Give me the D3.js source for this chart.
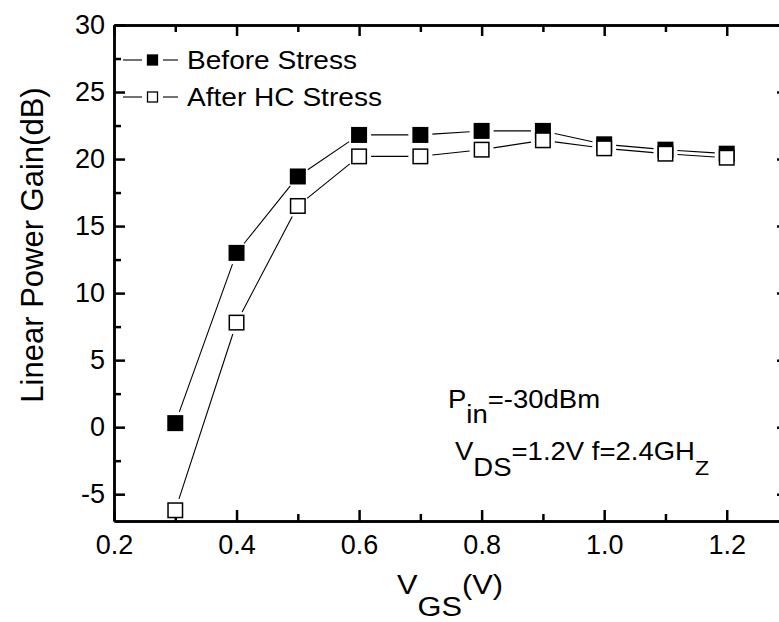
<!DOCTYPE html>
<html>
<head>
<meta charset="utf-8">
<script src="https://cdn.jsdelivr.net/npm/d3@7"></script>
<style>
  html, body { margin: 0; padding: 0; background: #fff; }
  svg { display: block; }
  text { font-family: Arial, "Liberation Sans", sans-serif; fill: #000; }
</style>
</head>
<body>
<svg id="chart" width="779" height="622"></svg>
<script>
// ---- data ----
const vgs = [0.3, 0.4, 0.5, 0.6, 0.7, 0.8, 0.9, 1.0, 1.1, 1.2];
const beforeStress = [0.3, 13.0, 18.7, 21.8, 21.8, 22.1, 22.1, 21.1, 20.7, 20.4];
const afterStress = [-6.2, 7.8, 16.5, 20.2, 20.2, 20.7, 21.4, 20.8, 20.4, 20.1];
const xTickValues = [0.2, 0.4, 0.6, 0.8, 1.0, 1.2];
const xMinorValues = [0.3, 0.5, 0.7, 0.9, 1.1];
const yTickValues = [-5, 0, 5, 10, 15, 20, 25, 30];
const yMinorValues = [-2.5, 2.5, 7.5, 12.5, 17.5, 22.5, 27.5];
const seriesNames = ["Before Stress", "After HC Stress"];

const svg = d3.select("#chart");
const x = d3.scaleLinear().domain([0.2, 1.3]).range([114, 788]);
const y = d3.scaleLinear().domain([-7, 30]).range([521, 25]);

const AX_W = 2.5;

function styleAxis(g) {
  g.select(".domain").attr("stroke", "#000").attr("stroke-width", AX_W);
  g.selectAll(".tick line").attr("stroke", "#000").attr("stroke-width", AX_W);
  g.selectAll(".tick text").attr("font-family", "Arial, 'Liberation Sans', sans-serif")
    .attr("font-size", 27).attr("fill", "#000");
}

// left axis
svg.append("g").attr("transform", `translate(${x(0.2)},0)`)
  .call(d3.axisLeft(y).tickValues(yTickValues).tickSize(-11).tickSizeOuter(0).tickPadding(9)
    .tickFormat(d => String(d)))
  .call(styleAxis);
svg.append("g").attr("transform", `translate(${x(0.2)},0)`)
  .call(d3.axisLeft(y).tickValues(yMinorValues).tickSize(-7).tickSizeOuter(0).tickFormat(""))
  .call(styleAxis);
// right axis
svg.append("g").attr("transform", `translate(${x(1.3)},0)`)
  .call(d3.axisRight(y).tickValues(yTickValues).tickSize(-11).tickSizeOuter(0).tickFormat(""))
  .call(styleAxis);
svg.append("g").attr("transform", `translate(${x(1.3)},0)`)
  .call(d3.axisRight(y).tickValues(yMinorValues).tickSize(-7).tickSizeOuter(0).tickFormat(""))
  .call(styleAxis);
// bottom axis
svg.append("g").attr("transform", `translate(0,${y(-7)})`)
  .call(d3.axisBottom(x).tickValues(xTickValues).tickSize(-11).tickSizeOuter(0).tickPadding(14)
    .tickFormat(d3.format(".1f")))
  .call(styleAxis)
  .call(g => g.selectAll(".tick text").attr("dy", "0.71em"));
svg.append("g").attr("transform", `translate(0,${y(-7)})`)
  .call(d3.axisBottom(x).tickValues(xMinorValues).tickSize(-7).tickSizeOuter(0).tickFormat(""))
  .call(styleAxis);
// top axis
svg.append("g").attr("transform", `translate(0,${y(30)})`)
  .call(d3.axisTop(x).tickValues(xTickValues).tickSize(-11).tickSizeOuter(0).tickFormat(""))
  .call(styleAxis);
svg.append("g").attr("transform", `translate(0,${y(30)})`)
  .call(d3.axisTop(x).tickValues(xMinorValues).tickSize(-7).tickSizeOuter(0).tickFormat(""))
  .call(styleAxis);

// ---- series ----
const GAP = 12;
function drawSeries(vals, filled) {
  const pts = vgs.map((v, i) => [x(v), y(vals[i])]);
  const g = svg.append("g");
  for (let i = 0; i < pts.length - 1; i++) {
    const [x1, y1] = pts[i], [x2, y2] = pts[i + 1];
    const L = Math.hypot(x2 - x1, y2 - y1);
    if (L <= 2 * GAP) continue;
    const ux = (x2 - x1) / L, uy = (y2 - y1) / L;
    g.append("line")
      .attr("x1", x1 + ux * GAP).attr("y1", y1 + uy * GAP)
      .attr("x2", x2 - ux * GAP).attr("y2", y2 - uy * GAP)
      .attr("stroke", "#000").attr("stroke-width", 1.1);
  }
  const S = 14.5;
  g.selectAll("rect.m").data(pts).enter().append("rect")
    .attr("x", d => d[0] - S / 2).attr("y", d => d[1] - S / 2)
    .attr("width", S).attr("height", S)
    .attr("fill", filled ? "#000" : "#fff")
    .attr("stroke", "#000").attr("stroke-width", 1.5);
}
drawSeries(beforeStress, true);
drawSeries(afterStress, false);

// ---- legend ----
const legendRows = [60, 97];
seriesNames.forEach((name, i) => {
  const cy = legendRows[i];
  const g = svg.append("g");
  g.append("line").attr("x1", 123).attr("x2", 142).attr("y1", cy).attr("y2", cy)
    .attr("stroke", "#000").attr("stroke-width", 1.1);
  g.append("line").attr("x1", 163).attr("x2", 178).attr("y1", cy).attr("y2", cy)
    .attr("stroke", "#000").attr("stroke-width", 1.1);
  g.append("rect").attr("x", 147.5).attr("y", cy - 5).attr("width", 10).attr("height", 10)
    .attr("fill", i === 0 ? "#000" : "#fff").attr("stroke", "#000").attr("stroke-width", 1.3);
  g.append("g").attr("transform", `translate(187,${cy + 9}) scale(1.08,1)`)
    .append("text").attr("font-size", 26).text(name);
});

// ---- helper for stretched text with subscripts ----
function richText(tx, ty, size, sx, parts) {
  const t = svg.append("g").attr("transform", `translate(${tx},${ty}) scale(${sx},1)`)
    .append("text").attr("font-size", size);
  let cur = 0;
  parts.forEach(p => {
    const shift = (p.sub ? p.sub : 0);
    const ts = t.append("tspan").text(p.t);
    if (shift !== cur) { ts.attr("dy", shift - cur); cur = shift; }
    if (p.size) ts.attr("font-size", p.size);
  });
  return t;
}

// annotations
richText(448, 408, 25, 1.1, [{t: "P"}, {t: "in", sub: 15}, {t: "=-30dBm", sub: 0}]);
richText(455, 460, 25, 1.1, [{t: "V"}, {t: "DS", sub: 16}, {t: "=1.2V f=2.4GH", sub: 0}, {t: "Z", sub: 15, size: 21}]);

// axis titles
richText(397, 594, 28, 1.1, [{t: "V"}, {t: "GS", sub: 22}, {t: "(V)", sub: 0}]);
svg.append("text")
  .attr("transform", "translate(43,245) rotate(-90)")
  .attr("text-anchor", "middle")
  .attr("font-size", 31)
  .text("Linear Power Gain(dB)");
</script>
</body>
</html>
